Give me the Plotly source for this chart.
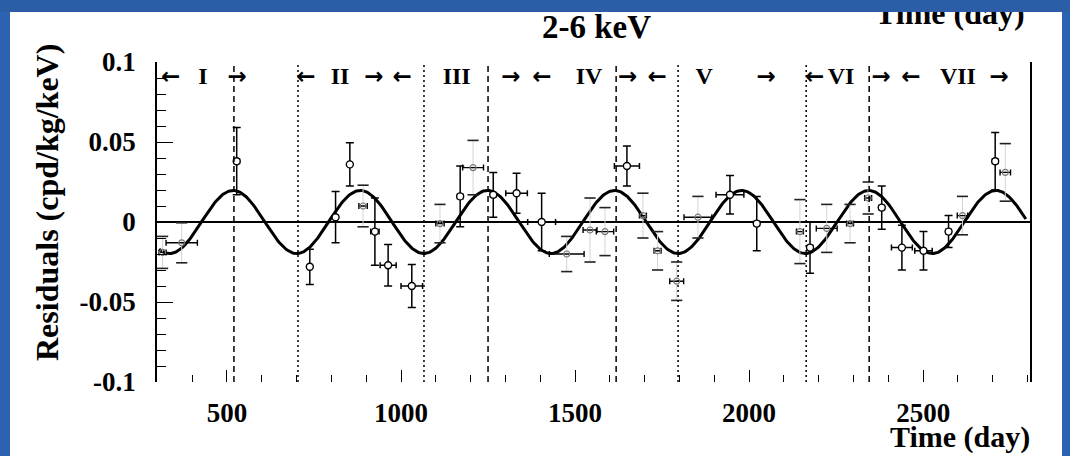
import numpy as np
import plotly.graph_objects as go

# ---------------- data ----------------
# fitted modulation A*cos(2*pi*(t - t0)/T)
amplitude = 0.0197
period = 365.25
phase = 152.5
curve_t_start = 305
curve_t_end = 2795

# clearly visible residual points (time in days, residual in cpd/kg/keV)
clear_t = [528, 738, 812, 853, 925, 963, 1031, 1170, 1265, 1332, 1404, 1649,
           1945, 2022, 2175, 2381, 2439, 2501, 2573, 2707]
clear_v = [0.038, -0.028, 0.003, 0.036, -0.006, -0.027, -0.040, 0.016, 0.017,
           0.018, 0.000, 0.035, 0.017, -0.001, -0.016, 0.009, -0.016, -0.018,
           -0.006, 0.038]
clear_verr = [0.021, 0.011, 0.016, 0.0135, 0.021, 0.013, 0.0135, 0.019, 0.014,
              0.0125, 0.018, 0.0125, 0.012, 0.017, 0.016, 0.0135, 0.014, 0.012,
              0.010, 0.018]
clear_terr = [8, 5, 5, 5, 12, 23, 31, 8, 8, 31, 40, 36, 40, 8, 8, 8, 30, 25, 8, 8]

# faint points (vertical bars barely visible in the source)
faint_t = [315, 370, 891, 1112, 1207, 1476, 1543, 1586, 1695, 1737, 1792, 1853,
           2146, 2223, 2290, 2342, 2613, 2736]
faint_v = [-0.019, -0.013, 0.010, -0.001, 0.034, -0.020, -0.005, -0.006, 0.004,
           -0.018, -0.037, 0.003, -0.006, -0.004, -0.001, 0.015, 0.004, 0.031]
faint_verr = [0.010, 0.0125, 0.013, 0.012, 0.017, 0.011, 0.020, 0.015, 0.014,
              0.012, 0.012, 0.013, 0.020, 0.015, 0.012, 0.010, 0.012, 0.018]
faint_terr = [10, 45, 12, 12, 30, 50, 20, 25, 10, 10, 20, 40, 10, 30, 10, 10, 15, 15]

# annual-cycle boundaries
vline_dashed_t = [520, 1250, 1618, 2345]
vline_dotted_t = [704, 1066, 1796, 2164]

# cycle labels and arrows along the top
cycle_labels = ["I", "II", "III", "IV", "V", "VI", "VII"]
cycle_label_t = [431, 825, 1160, 1540, 1871, 2264, 2600]
arrow_right_t = [529, 922, 1316, 1651, 2049, 2379, 2718]
arrow_left_t = [338, 727, 1003, 1405, 1736, 2188, 2465]
label_level = 0.09

x_ticks = [500, 1000, 1500, 2000, 2500]
y_ticks = [0.1, 0.05, 0, -0.05, -0.1]
y_tick_text = ["0.1", "0.05", "0", "-0.05", "-0.1"]

x_range = [299, 2807]
y_range = [-0.1, 0.1]

# ---------------- figure ----------------
SERIF = "Liberation Serif, Times New Roman, serif"
BLUE = "#2b5ea6"
fig = go.Figure()

curve_t = np.linspace(curve_t_start, curve_t_end, 800)
curve_v = amplitude * np.cos(2 * np.pi * (curve_t - phase) / period)
fig.add_trace(go.Scatter(x=curve_t, y=curve_v, mode="lines",
                         line=dict(color="black", width=3), hoverinfo="skip"))

# faint points: black x-bars, light y-bars, dark caps
fig.add_trace(go.Scatter(
    x=faint_t, y=faint_v, mode="markers",
    marker=dict(symbol="circle-open", size=6, color="#777", line=dict(width=1.2)),
    error_x=dict(type="data", array=faint_terr, color="black", thickness=1.4, width=3),
    error_y=dict(type="data", array=faint_verr, color="#d4d4d4", thickness=1, width=0),
))
cap_t = faint_t + faint_t
cap_v = [v + e for v, e in zip(faint_v, faint_verr)] + [v - e for v, e in zip(faint_v, faint_verr)]
fig.add_trace(go.Scatter(x=cap_t, y=cap_v, mode="markers",
                         marker=dict(symbol="line-ew-open", size=8, color="#222",
                                     line=dict(width=1.6, color="#222"))))

# clear points
fig.add_trace(go.Scatter(
    x=clear_t, y=clear_v, mode="markers",
    marker=dict(symbol="circle", size=7, color="white", line=dict(color="black", width=1.4)),
    error_x=dict(type="data", array=clear_terr, color="black", thickness=1.5, width=3),
    error_y=dict(type="data", array=clear_verr, color="black", thickness=1.5, width=4),
))

# cycle labels
fig.add_trace(go.Scatter(x=cycle_label_t, y=[label_level] * len(cycle_label_t),
                         mode="text", text=cycle_labels,
                         textfont=dict(family=SERIF, size=24, color="black", weight="bold"),
                         textposition="middle center"))
fig.add_trace(go.Scatter(x=arrow_right_t, y=[label_level] * len(arrow_right_t),
                         mode="text", text=["\u2192"] * len(arrow_right_t),
                         textfont=dict(family="DejaVu Sans", size=23, color="black", weight="bold"),
                         textposition="middle center"))
fig.add_trace(go.Scatter(x=arrow_left_t, y=[label_level] * len(arrow_left_t),
                         mode="text", text=["\u2190"] * len(arrow_left_t),
                         textfont=dict(family="DejaVu Sans", size=23, color="black", weight="bold"),
                         textposition="middle center"))

shapes = []
for t in vline_dashed_t:
    shapes.append(dict(type="line", xref="x", yref="paper", x0=t, x1=t, y0=0, y1=1,
                       line=dict(color="black", width=1.5, dash="6px,4px")))
for t in vline_dotted_t:
    shapes.append(dict(type="line", xref="x", yref="paper", x0=t, x1=t, y0=0, y1=1,
                       line=dict(color="black", width=1.5, dash="2px,3px")))

# slide frame: white page over blue background
W, H = 1070, 456
ml, mr, mt, mb = 157, 40, 62, 74
pw, ph = W - ml - mr, H - mt - mb
def px2paper_x(px):
    return (px - ml) / pw
def px2paper_y(py):
    return (H - mb - py) / ph
shapes.append(dict(type="rect", xref="paper", yref="paper", layer="below",
                   x0=px2paper_x(10), x1=px2paper_x(1062), y0=px2paper_y(H + 5), y1=px2paper_y(12),
                   fillcolor="white", line=dict(width=0)))

annotations = [
    dict(text="2-6 keV", xref="paper", yref="paper", x=px2paper_x(596), y=px2paper_y(27),
         showarrow=False, font=dict(family=SERIF, size=33, color="black", weight="bold"),
         xanchor="center", yanchor="middle"),
    dict(text="Residuals (cpd/kg/keV)", xref="paper", yref="paper",
         x=px2paper_x(47), y=px2paper_y(203), textangle=-90, showarrow=False,
         font=dict(family=SERIF, size=32, color="black", weight="bold"),
         xanchor="center", yanchor="middle"),
    dict(text="Time (day)", xref="paper", yref="paper",
         x=px2paper_x(1032), y=px2paper_y(437), showarrow=False,
         font=dict(family=SERIF, size=30, color="black", weight="bold"),
         xanchor="right", yanchor="middle"),
    # clipped title of the neighbouring panel, top right
    dict(text="Time (day)", xref="paper", yref="paper",
         x=px2paper_x(950), y=px2paper_y(13), showarrow=False,
         font=dict(family=SERIF, size=32, color="black", weight="bold"),
         xanchor="center", yanchor="middle"),
    # blue top band drawn over it
    dict(text=".", xref="paper", yref="paper", x=px2paper_x(535), y=px2paper_y(-2),
         xanchor="center", yanchor="top", width=1100, height=14, bgcolor=BLUE,
         borderpad=0, borderwidth=0, showarrow=False, font=dict(size=4, color=BLUE)),
]

fig.update_layout(
    width=W, height=H,
    margin=dict(l=ml, r=mr, t=mt, b=mb, pad=0),
    paper_bgcolor="#2b62b2", plot_bgcolor="white",
    showlegend=False,
    shapes=shapes, annotations=annotations,
    xaxis=dict(range=x_range, tickvals=x_ticks, ticktext=[str(v) for v in x_ticks],
               ticks="inside", ticklen=12, tickwidth=1.3, tickcolor="black",
               minor=dict(dtick=100, tick0=0, ticks="inside", ticklen=7, tickwidth=1, tickcolor="black"),
               showgrid=False, zeroline=False, showline=False,
               ticklabelstandoff=12,
               tickfont=dict(family=SERIF, size=27, color="black", weight="bold")),
    yaxis=dict(range=y_range, tickvals=y_ticks, ticktext=y_tick_text,
               ticks="inside", ticklen=16, tickwidth=1.3, tickcolor="black",
               minor=dict(dtick=0.01, tick0=0, ticks="inside", ticklen=9, tickwidth=1, tickcolor="black"),
               showgrid=False, showline=True, linecolor="black", linewidth=1.5, mirror=True,
               zeroline=True, zerolinecolor="black", zerolinewidth=1.5,
               ticklabelstandoff=14,
               tickfont=dict(family=SERIF, size=27, color="black", weight="bold")),
)

fig.write_html("out.html", config={"displayModeBar": False},
               post_script="document.body.style.margin='0';document.body.style.overflow='hidden';")
